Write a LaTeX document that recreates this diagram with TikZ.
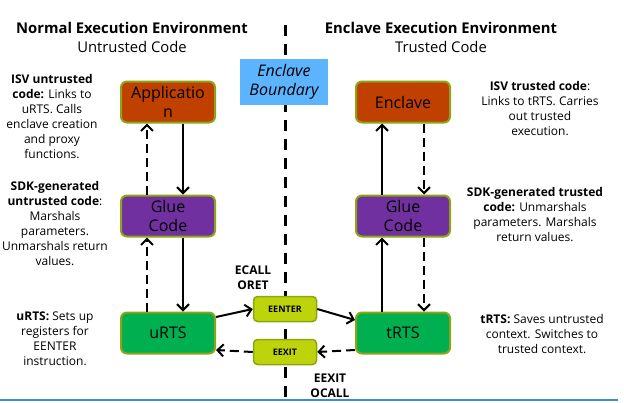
\documentclass[tikz,border=0pt]{standalone}
\usepackage{fontspec}
\setmainfont{Open Sans}
\usetikzlibrary{arrows.meta}

\definecolor{apprust}{RGB}{192,64,0}
\definecolor{gluepurple}{RGB}{112,48,160}
\definecolor{rtsgreen}{RGB}{0,176,80}
\definecolor{gatelime}{RGB}{190,212,10}
\definecolor{boxrim}{RGB}{140,165,20}
\definecolor{skyblue}{RGB}{92,180,255}
\definecolor{edgeblue}{RGB}{60,140,216}

\tikzset{
  block/.style={draw=boxrim, line width=2pt, rounded corners=6pt,
    minimum width=94pt, minimum height=41pt, inner sep=0pt,
    align=center, font=\fontsize{16}{19}\selectfont},
  gate/.style={draw=boxrim, line width=1.5pt, rounded corners=4pt, fill=gatelime,
    minimum width=63pt, minimum height=25pt, inner sep=0pt,
    font=\fontsize{9}{10}\selectfont\bfseries},
  note/.style={align=center, font=\fontsize{12}{15}\selectfont},
  title/.style={align=center, font=\fontsize{14.8}{19}\selectfont},
  tag/.style={align=center, font=\fontsize{12}{15}\selectfont\bfseries},
  flow/.style={line width=2pt, -{Straight Barb[length=6pt,width=12pt]}},
  back/.style={flow, dash pattern=on 9pt off 5pt},
}

\begin{document}
\begin{tikzpicture}[x=1pt,y=-1pt]
\useasboundingbox (0,0) rectangle (624,402);

\draw[line width=3pt, dash pattern=on 11pt off 8pt] (285,25) -- (285,402);
\draw[edgeblue, line width=1.5pt] (0,400) -- (618,400);

\node[title] (ntitle) at (132,37) {\textbf{Normal Execution Environment}\\Untrusted Code};
\node[title] (etitle) at (441,37) {\textbf{Enclave Execution Environment}\\Trusted Code};

\node[fill=skyblue, minimum width=88pt, minimum height=46pt, inner sep=0pt,
  align=center, font=\fontsize{16}{19}\selectfont\itshape] (boundary) at (284,82) {Enclave\\Boundary};

\node[block, fill=apprust] (app) at (168,102) {Applicatio\\n};
\node[block, fill=gluepurple] (glueU) at (168,216) {Glue\\Code};
\node[block, fill=rtsgreen] (urts) at (168,333) {uRTS};

\node[block, fill=apprust] (encl) at (403,102) {Enclave};
\node[block, fill=gluepurple] (glueT) at (403,216) {Glue\\Code};
\node[block, fill=rtsgreen] (trts) at (403,333) {tRTS};

\node[gate] (eenter) at (285,309) {EENTER};
\node[gate] (eexit) at (285,352) {EEXIT};

\node[tag] (ecall) at (253,278) {ECALL\\ORET};
\node[tag] (ocall) at (330,386) {EEXIT\\OCALL};

\node[note] (isvU) at (52,117) {\textbf{ISV untrusted}\\\textbf{code:} Links to\\uRTS. Calls\\enclave creation\\and proxy\\functions.};
\node[note] (sdkU) at (55,224) {\textbf{SDK-generated}\\\textbf{untrusted code}:\\Marshals\\parameters.\\Unmarshals return\\values.};
\node[note] (rtsU) at (55,339) {\textbf{uRTS:} Sets up\\registers for\\EENTER\\instruction.};

\node[note] (isvT) at (540,109) {\textbf{ISV trusted code}:\\Links to tRTS. Carries\\out trusted\\execution.};
\node[note] (sdkT) at (535,215) {\textbf{SDK-generated trusted}\\\textbf{code:} Unmarshals\\parameters. Marshals\\return values.};
\node[note] (rtsT) at (542,334) {\textbf{tRTS:} Saves untrusted\\context. Switches to\\trusted context.};

\draw[flow] ([xshift=15pt]app.south) -- ([xshift=15pt]glueU.north);
\draw[back] ([xshift=-21pt]glueU.north) -- ([xshift=-21pt]app.south);
\draw[flow] ([xshift=15pt]glueU.south) -- ([xshift=15pt]urts.north);
\draw[back] ([xshift=-21pt]urts.north) -- ([xshift=-21pt]glueU.south);

\draw[flow] ([xshift=-21pt]glueT.north) -- ([xshift=-21pt]encl.south);
\draw[back] ([xshift=21pt]encl.south) -- ([xshift=21pt]glueT.north);
\draw[flow] ([xshift=-21pt]trts.north) -- ([xshift=-21pt]glueT.south);
\draw[back] ([xshift=21pt]glueT.south) -- ([xshift=21pt]trts.north);

\draw[flow] ([yshift=16pt]urts.east) -- (eenter.west);
\draw[flow] (eenter.east) -- ([yshift=13pt]trts.west);
\draw[back] ([yshift=-17pt]trts.west) -- (eexit.east);
\draw[back] (eexit.west) -- ([yshift=-17pt]urts.east);
\end{tikzpicture}
\end{document}
